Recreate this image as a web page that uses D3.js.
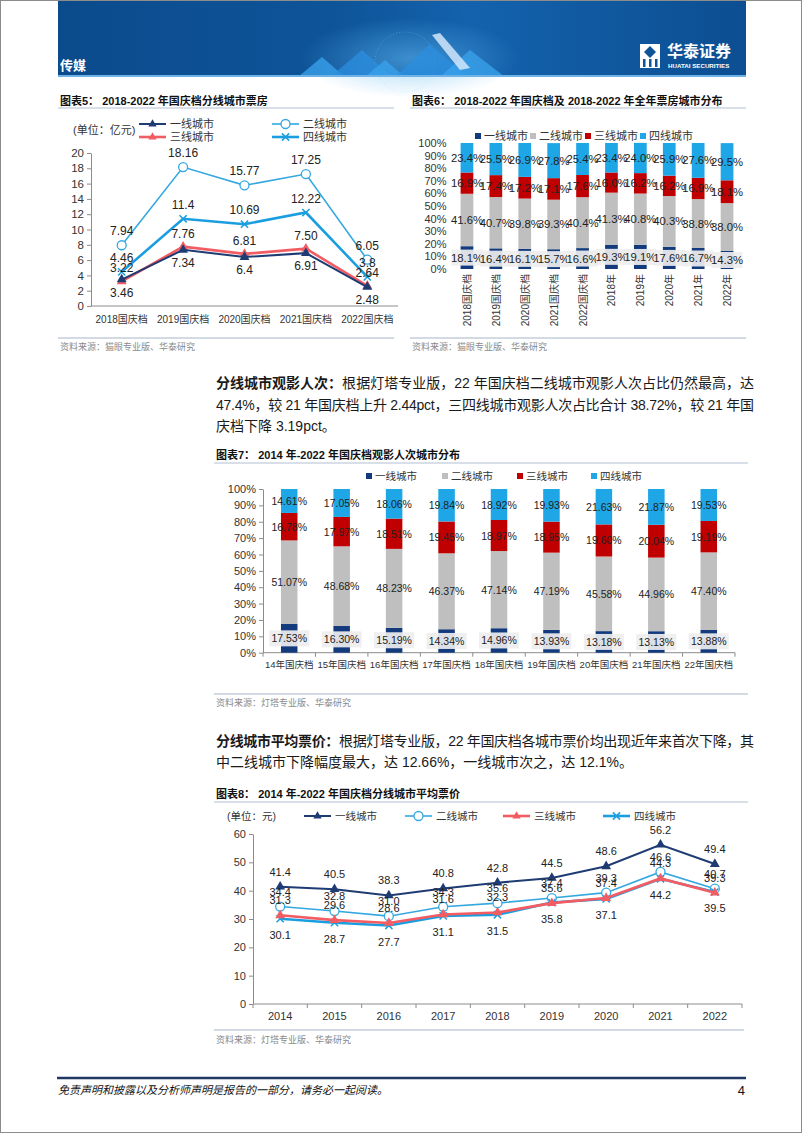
<!DOCTYPE html>
<html><head><meta charset="utf-8">
<script src="https://cdn.jsdelivr.net/npm/d3@7"></script>
<style>
body{margin:0;background:#fff;}
svg{display:block;font-family:"Liberation Sans",Arial,"Noto Sans CJK SC",sans-serif;}
</style></head><body>
<svg id="page" width="802" height="1133"></svg>
<script>
// ---------------- DATA ----------------
const seriesNames = ["一线城市","二线城市","三线城市","四线城市"];

// Chart 5: box office (亿元)
const c5Categories = ["2018国庆档","2019国庆档","2020国庆档","2021国庆档","2022国庆档"];
const c5Tier1 = [3.46, 7.34, 6.4, 6.91, 2.48];
const c5Tier2 = [7.94, 18.16, 15.77, 17.25, 6.05];
const c5Tier3 = [3.22, 7.76, 6.81, 7.50, 2.64];
const c5Tier4 = [4.46, 11.4, 10.69, 12.22, 3.8];
const c5YTicks = [0,2,4,6,8,10,12,14,16,18,20];

// Chart 6: box office share (%)
const c6Categories = ["2018国庆档","2019国庆档","2020国庆档","2021国庆档","2022国庆档","2018年","2019年","2020年","2021年","2022年"];
const c6Tier1 = [18.1,16.4,16.1,15.7,16.6,19.3,19.1,17.6,16.7,14.3];
const c6Tier2 = [41.6,40.7,39.8,39.3,40.4,41.3,40.8,40.3,38.8,38.0];
const c6Tier3 = [16.9,17.4,17.2,17.1,17.6,16.0,16.2,16.2,16.9,18.1];
const c6Tier4 = [23.4,25.5,26.9,27.8,25.4,23.4,24.0,25.9,27.6,29.5];
const pctTicks = [0,10,20,30,40,50,60,70,80,90,100];

// Chart 7: admissions share (%)
const c7Categories = ["14年国庆档","15年国庆档","16年国庆档","17年国庆档","18年国庆档","19年国庆档","20年国庆档","21年国庆档","22年国庆档"];
const c7Tier1 = [17.53,16.30,15.19,14.34,14.96,13.93,13.18,13.13,13.88];
const c7Tier2 = [51.07,48.68,48.23,46.37,47.14,47.19,45.58,44.96,47.40];
const c7Tier3 = [16.78,17.97,18.51,19.45,18.97,18.95,19.60,20.04,19.19];
const c7Tier4 = [14.61,17.05,18.06,19.84,18.92,19.93,21.63,21.87,19.53];

// Chart 8: average ticket price (元)
const c8Categories = ["2014","2015","2016","2017","2018","2019","2020","2021","2022"];
const c8Tier1 = [41.4,40.5,38.3,40.8,42.8,44.5,48.6,56.2,49.4];
const c8Tier2 = [34.4,32.8,31.0,34.3,35.6,37.4,39.3,46.6,40.7];
const c8Tier3 = [31.3,29.6,28.6,31.6,32.3,35.6,37.4,44.3,39.3];
const c8Tier4 = [30.1,28.7,27.7,31.1,31.5,35.8,37.1,44.2,39.5];
const c8YTicks = [0,10,20,30,40,50,60];

// ---------------- STYLE ----------------
const NAVY_LINE = "#1f3b73", LBLUE = "#35a8e0", RED_LINE = "#f25c62", BLUE4 = "#1b9ee0";
const BAR_COLORS = ["#123a7c", "#bfbfbf", "#c00000", "#1ea6e6"];
const TXT = "#222";

const svg = d3.select("#page");
svg.append("rect").attr("x",0.5).attr("y",0.5).attr("width",801).attr("height",1132)
  .attr("fill","#fff").attr("stroke","#8c8c8c");

// ---------------- HEADER ----------------
const defs = svg.append("defs");
const hg = defs.append("linearGradient").attr("id","hdr").attr("x1",0).attr("x2",1).attr("y1",0).attr("y2",0);
[[0,"#0b4b8c"],[0.4,"#0e5499"],[0.6,"#1462ad"],[1,"#0c4e91"]].forEach(s=>hg.append("stop").attr("offset",s[0]).attr("stop-color",s[1]));
const rg = defs.append("radialGradient").attr("id","glow");
rg.append("stop").attr("offset",0).attr("stop-color","#5fb8f0").attr("stop-opacity",0.55);
rg.append("stop").attr("offset",1).attr("stop-color","#5fb8f0").attr("stop-opacity",0);
svg.append("rect").attr("x",58).attr("y",1).attr("width",688).attr("height",76).attr("fill","url(#hdr)");
svg.append("ellipse").attr("cx",410).attr("cy",58).attr("rx",110).attr("ry",40).attr("fill","url(#glow)");
svg.append("circle").attr("cx",405).attr("cy",62).attr("r",30).attr("fill","none").attr("stroke","#8fd0ff").attr("stroke-opacity",0.35).attr("stroke-dasharray","1,2");
const tris = [
  [[298,77],[322,57],[345,77]],[[330,77],[362,50],[392,77]],[[365,77],[385,60],[405,77]],
  [[395,77],[430,44],[468,77]],[[440,77],[470,50],[505,77]]
];
tris.forEach((t,i)=>svg.append("polygon").attr("points",t.map(p=>p.join(",")).join(" "))
  .attr("fill",i%2?"#2b8fe0":"#3aa4ee").attr("opacity",0.75));
svg.append("polygon").attr("points","432,35 440,33 470,68 460,70").attr("fill","#dcecff").attr("opacity",0.8);
svg.append("rect").attr("x",58).attr("y",75).attr("width",688).attr("height",2).attr("fill","#6fb2e6");
svg.append("text").attr("x",60).attr("y",70).attr("fill","#fff").attr("font-size",13).attr("font-weight","bold").text("传媒");
// logo
const lg = svg.append("g");
lg.append("rect").attr("x",640).attr("y",44).attr("width",20).attr("height",24).attr("fill","#fff");
lg.append("polygon").attr("points","644,52 650,46 656,52 650,58").attr("fill","#0e5499");
lg.append("rect").attr("x",643).attr("y",59).attr("width",2.5).attr("height",8).attr("fill","#0e5499");
lg.append("rect").attr("x",649).attr("y",59).attr("width",2.5).attr("height",8).attr("fill","#0e5499");
lg.append("rect").attr("x",655).attr("y",59).attr("width",2.5).attr("height",8).attr("fill","#0e5499");
lg.append("text").attr("x",667).attr("y",57).attr("fill","#fff").attr("font-size",16).attr("font-weight","bold").attr("font-family","Noto Sans CJK SC").text("华泰证券");
lg.append("text").attr("x",668).attr("y",68).attr("fill","#fff").attr("font-size",6.2).attr("font-weight","bold").text("HUATAI SECURITIES");

// ---------------- HELPERS ----------------
function title(x, y, text, lx1, lx2, ly) {
  svg.append("text").attr("x",x).attr("y",y).attr("font-size",11).attr("font-weight","bold").attr("fill","#111").text(text);
  svg.append("line").attr("x1",lx1).attr("x2",lx2).attr("y1",ly).attr("y2",ly).attr("stroke","#b4c0d2").attr("stroke-width",1.2);
}
function source(x, y, text, lx1, lx2, ly) {
  svg.append("line").attr("x1",lx1).attr("x2",lx2).attr("y1",ly).attr("y2",ly).attr("stroke","#a8b6ca").attr("stroke-width",1.2);
  svg.append("text").attr("x",x).attr("y",y).attr("font-size",9).attr("fill","#8a8a8a").text(text);
}
function marker(g, type, color, cx, cy, s) {
  if (type === "tri") {
    g.append("path").attr("d", d3.symbol(d3.symbolTriangle, s || 42)()).attr("transform",`translate(${cx},${cy})`).attr("fill",color);
  } else if (type === "circle") {
    g.append("circle").attr("cx",cx).attr("cy",cy).attr("r",4.5).attr("fill","#fff").attr("stroke",color).attr("stroke-width",1.3);
  } else {
    const r = 3.6;
    g.append("path").attr("d",`M${cx-r},${cy-r}L${cx+r},${cy+r}M${cx-r},${cy+r}L${cx+r},${cy-r}`).attr("stroke",color).attr("stroke-width",1.5);
  }
}
function styleAxis(g, fs) {
  g.select(".domain").attr("stroke","#8c8c8c");
  g.selectAll(".tick line").attr("stroke","#8c8c8c");
  g.selectAll(".tick text").attr("font-size",fs).attr("fill","#333").attr("font-family","Liberation Sans, Arial, sans-serif");
}
function paragraph(x, y, parts, width) {
  const t = svg.append("text").attr("x",x).attr("y",y).attr("font-size",14).attr("fill","#1a1a1a");
  parts.forEach(p => t.append("tspan").attr("font-weight", p.b ? "bold" : "normal").text(p.t));
  if (width) t.attr("textLength",width).attr("lengthAdjust","spacing");
}

// ---------------- LINE CHART ----------------
function lineChart(o) {
  const g = svg.append("g");
  const x = d3.scaleBand().domain(o.cats).range(o.xr);
  const y = d3.scaleLinear().domain(o.yd).range(o.yr);
  const cx = d => x(d) + x.bandwidth()/2;
  const ay = g.append("g").attr("transform",`translate(${o.xr[0]},0)`).call(d3.axisLeft(y).tickValues(o.ticks).tickSize(4).tickSizeOuter(0));
  styleAxis(ay, o.tickFs);
  g.append("line").attr("x1",o.xr[0]).attr("x2",o.xr[1]).attr("y1",o.yr[0]).attr("y2",o.yr[0]).attr("stroke","#8c8c8c");
  if (o.xTicks) {
    d3.range(o.cats.length+1).forEach(i => {
      const xx = o.xr[0] + i*x.step();
      g.append("line").attr("x1",xx).attr("x2",xx).attr("y1",o.yr[0]).attr("y2",o.yr[0]+4).attr("stroke","#8c8c8c");
    });
  }
  o.cats.forEach(c => g.append("text").attr("x",cx(c)).attr("y",o.yr[0]+o.xLabelDy).attr("text-anchor","middle")
    .attr("font-size",o.xFs).attr("fill","#333").text(c));
  const line = d3.line().x((d,i)=>cx(o.cats[i])).y(d=>y(d));
  o.order.forEach(k => {
    const s = o.series[k];
    g.append("path").attr("d",line(s.values)).attr("fill","none").attr("stroke",s.color).attr("stroke-width",s.width);
    s.values.forEach((v,i)=>marker(g, s.marker, s.color, cx(o.cats[i]), y(v)));
  });
  o.series.forEach(s => {
    s.values.forEach((v,i)=>g.append("text").attr("x",cx(o.cats[i]) + (s.ldx||0)).attr("y",y(v)+s.ldy).attr("text-anchor","middle")
      .attr("font-size",o.labelFs).attr("fill",TXT).text(s.fmt(v)));
  });
  // legend
  o.legend.forEach((l,i) => {
    const s = o.series[i];
    g.append("line").attr("x1",l[0]).attr("x2",l[0]+27).attr("y1",l[1]).attr("y2",l[1]).attr("stroke",s.color).attr("stroke-width",s.width);
    marker(g, s.marker, s.color, l[0]+13.5, l[1], 30);
    g.append("text").attr("x",l[0]+31).attr("y",l[1]+4).attr("font-size",o.legFs).attr("fill","#333").text(seriesNames[i]);
  });
  g.append("text").attr("x",o.unit[0]).attr("y",o.unit[1]).attr("font-size",o.legFs).attr("fill","#333").text(o.unit[2]);
}

// ---------------- STACKED BAR ----------------
function stackChart(o) {
  const g = svg.append("g");
  const keys = ["t1","t2","t3","t4"];
  const rows = o.cats.map((c,i)=>({cat:c, t1:o.data[0][i], t2:o.data[1][i], t3:o.data[2][i], t4:o.data[3][i]}));
  const stacked = d3.stack().keys(keys)(rows);
  const x = d3.scaleBand().domain(o.cats).range(o.xr).paddingInner(o.pad).paddingOuter(o.pad/2);
  const y = d3.scaleLinear().domain([0,100]).range(o.yr);
  const ay = g.append("g").attr("transform",`translate(${o.xr[0]},0)`).call(d3.axisLeft(y).tickValues(pctTicks).tickFormat(d=>d+"%").tickSize(o.axisLine?4:0).tickSizeOuter(0).tickPadding(o.axisLine?3:6));
  styleAxis(ay, o.tickFs);
  if (!o.axisLine) ay.select(".domain").remove();
  if (o.axisLine) {
    g.append("line").attr("x1",o.xr[0]).attr("x2",o.xr[1]).attr("y1",o.yr[0]).attr("y2",o.yr[0]).attr("stroke","#8c8c8c");
    d3.range(o.cats.length+1).forEach(i => {
      const xx = o.xr[0] + i*x.step();
      g.append("line").attr("x1",xx).attr("x2",xx).attr("y1",o.yr[0]).attr("y2",o.yr[0]+4).attr("stroke","#8c8c8c");
    });
  }
  stacked.forEach((layer,li) => {
    layer.forEach((d,i) => g.append("rect").attr("x",x(o.cats[i])).attr("width",x.bandwidth())
      .attr("y",y(d[1])).attr("height",y(d[0])-y(d[1])).attr("fill",BAR_COLORS[li]));
  });
  stacked.forEach((layer,li) => {
    layer.forEach((d,i) => {
      const cx = x(o.cats[i]) + x.bandwidth()/2, cy = (y(d[0])+y(d[1]))/2;
      if (li === 0) g.append("rect").attr("x",cx-o.boxW/2).attr("y",cy-8).attr("width",o.boxW).attr("height",16).attr("fill","#eeeeee").attr("opacity",0.92);
      g.append("text").attr("x",cx).attr("y",cy+4).attr("text-anchor","middle").attr("font-size",o.labelFs).attr("fill",TXT)
        .text(o.data[li][i].toFixed(o.dec)+"%");
    });
  });
  o.cats.forEach(c => {
    const cx = x(c) + x.bandwidth()/2;
    if (o.rotate) g.append("text").attr("transform",`translate(${cx+4},${o.yr[0]+5}) rotate(-90)`).attr("text-anchor","end").attr("font-size",o.xFs).attr("fill","#333").text(c);
    else g.append("text").attr("x",cx).attr("y",o.yr[0]+15).attr("text-anchor","middle").attr("font-size",o.xFs).attr("fill","#333").text(c);
  });
  o.legend.forEach((lx,i) => {
    g.append("rect").attr("x",lx).attr("y",o.legY-3).attr("width",6).attr("height",6).attr("fill",BAR_COLORS[i]);
    g.append("text").attr("x",lx+9).attr("y",o.legY+4).attr("font-size",o.legFs).attr("fill","#333").text(seriesNames[i]);
  });
}

// ---------------- CHART 5 ----------------
title(60, 105, "图表5： 2018-2022 年国庆档分线城市票房", 58, 394, 108);
lineChart({
  cats: c5Categories, xr:[91,398], yd:[0,20], yr:[306,153], ticks:c5YTicks, tickFs:11.5, xFs:10, xLabelDy:17, labelFs:12,
  order:[1,3,2,0],
  series:[
    {values:c5Tier1, color:NAVY_LINE, width:2, marker:"tri", ldy:17, fmt:d=>String(d)},
    {values:c5Tier2, color:LBLUE, width:1.6, marker:"circle", ldy:-10, fmt:d=>String(d)},
    {values:c5Tier3, color:RED_LINE, width:2.6, marker:"tri", ldy:-9, fmt:d=>d.toFixed(2)},
    {values:c5Tier4, color:BLUE4, width:2.6, marker:"x", ldy:-10, fmt:d=>String(d)}
  ],
  legend:[[139,124],[272,124],[139,137],[272,137]], legFs:11,
  unit:[73,134,"(单位：亿元)"]
});
source(60, 350, "资料来源：猫眼专业版、华泰研究", 58, 394, 338);

// ---------------- CHART 6 ----------------
title(412, 105, "图表6： 2018-2022 年国庆档及 2018-2022 年全年票房城市分布", 410, 746, 108);
stackChart({
  cats:c6Categories, data:[c6Tier1,c6Tier2,c6Tier3,c6Tier4], xr:[452.5,741.5], pad:0.56, yr:[269,143],
  tickFs:11, labelFs:11.3, xFs:10, dec:1, boxW:31, rotate:true, axisLine:false,
  legend:[475,530,585,640], legY:136, legFs:11
});
source(412, 350, "资料来源：猫眼专业版、华泰研究", 410, 746, 338);

// ---------------- PARAGRAPH 1 ----------------
paragraph(216, 388, [{t:"分线城市观影人次：",b:true},{t:"根据灯塔专业版，22 年国庆档二线城市观影人次占比仍然最高，达"}], 538);
paragraph(216, 410, [{t:"47.4%，较 21 年国庆档上升 2.44pct，三四线城市观影人次占比合计 38.72%，较 21 年国"}], 538);
paragraph(216, 431, [{t:"庆档下降 3.19pct。"}]);

// ---------------- CHART 7 ----------------
title(216, 459, "图表7： 2014 年-2022 年国庆档观影人次城市分布", 214, 748, 463);
stackChart({
  cats:c7Categories, data:[c7Tier1,c7Tier2,c7Tier3,c7Tier4], xr:[263,735], pad:0.685, yr:[652.7,489],
  tickFs:11, labelFs:10.5, xFs:9.5, dec:2, boxW:40, rotate:false, axisLine:true,
  legend:[366,442,517,591], legY:476, legFs:10.5
});
source(216, 706, "资料来源：灯塔专业版、华泰研究", 214, 748, 694);

// ---------------- PARAGRAPH 2 ----------------
paragraph(216, 746, [{t:"分线城市平均票价：",b:true},{t:"根据灯塔专业版，22 年国庆档各城市票价均出现近年来首次下降，其"}], 538);
paragraph(216, 767, [{t:"中二线城市下降幅度最大，达 12.66%，一线城市次之，达 12.1%。"}]);

// ---------------- CHART 8 ----------------
title(216, 798, "图表8： 2014 年-2022 年国庆档分线城市平均票价", 214, 748, 802);
lineChart({
  cats:c8Categories, xr:[253,742], yd:[0,60], yr:[1004,834], ticks:c8YTicks, tickFs:11, xFs:11, xLabelDy:16, labelFs:11, xTicks:true,
  order:[1,3,2,0],
  series:[
    {values:c8Tier1, color:NAVY_LINE, width:2, marker:"tri", ldy:-11, fmt:d=>d.toFixed(1)},
    {values:c8Tier2, color:LBLUE, width:1.6, marker:"circle", ldy:-11, fmt:d=>d.toFixed(1)},
    {values:c8Tier3, color:RED_LINE, width:2.6, marker:"tri", ldy:-11, fmt:d=>d.toFixed(1)},
    {values:c8Tier4, color:BLUE4, width:2.6, marker:"x", ldy:20, fmt:d=>d.toFixed(1)}
  ],
  legend:[[304,816],[405,816],[503,816],[603,816]], legFs:10.5,
  unit:[227,820,"(单位：元)"]
});
source(216, 1043, "资料来源：灯塔专业版、华泰研究", 214, 744, 1030);

// ---------------- FOOTER ----------------
svg.append("line").attr("x1",57).attr("x2",746).attr("y1",1078).attr("y2",1078).attr("stroke","#1f3864").attr("stroke-width",2.5);
svg.append("text").attr("x",58).attr("y",1094).attr("font-size",11).attr("font-style","italic").attr("fill","#111")
  .text("免责声明和披露以及分析师声明是报告的一部分，请务必一起阅读。");
svg.append("text").attr("x",745).attr("y",1095).attr("text-anchor","end").attr("font-size",13).attr("fill","#111").text("4");
</script>
</body></html>
